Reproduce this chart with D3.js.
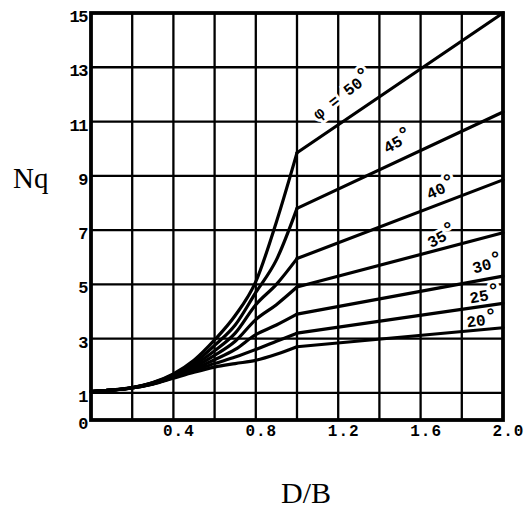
<!DOCTYPE html>
<html>
<head>
<meta charset="utf-8">
<script src="https://cdn.jsdelivr.net/npm/d3@7"></script>
<style>
  body { margin: 0; background: #fff; }
  svg { display: block; }
</style>
</head>
<body>
<svg id="chart" width="531" height="511"></svg>
<script>
// Bearing capacity factor Nq against embedment ratio D/B
const dB = [0, 0.1, 0.2, 0.3, 0.4, 0.5, 0.6, 0.7, 0.8, 0.9, 1.0, 2.0];
const frictionAngles = [50, 45, 40, 35, 30, 25, 20];
const nq50 = [1.05, 1.1, 1.2, 1.38, 1.7, 2.2, 2.95, 3.85, 5.1, 7.3, 9.85, 15.0];
const nq45 = [1.05, 1.1, 1.19, 1.37, 1.67, 2.1, 2.75, 3.5, 4.7, 5.9, 7.8, 11.35];
const nq40 = [1.05, 1.1, 1.19, 1.36, 1.64, 2.02, 2.55, 3.2, 4.25, 5.0, 5.95, 8.85];
const nq35 = [1.05, 1.1, 1.19, 1.35, 1.61, 1.95, 2.38, 2.9, 3.7, 4.25, 4.9, 6.9];
const nq30 = [1.05, 1.1, 1.18, 1.34, 1.58, 1.88, 2.22, 2.6, 3.15, 3.5, 3.9, 5.3];
const nq25 = [1.05, 1.1, 1.18, 1.33, 1.56, 1.82, 2.08, 2.32, 2.6, 2.9, 3.2, 4.3];
const nq20 = [1.05, 1.1, 1.18, 1.32, 1.54, 1.76, 1.95, 2.08, 2.2, 2.42, 2.7, 3.4];
const nqSeries = [nq50, nq45, nq40, nq35, nq30, nq25, nq20];

const xTickLabels = [0.4, 0.8, 1.2, 1.6, 2.0];
const yTickLabels = [0, 1, 3, 5, 7, 9, 11, 13, 15];
const xGrid = [0.2, 0.4, 0.6, 0.8, 1.0, 1.2, 1.4, 1.6, 1.8];
const yGrid = [1, 3, 5, 7, 9, 11, 13];

// curve labels: where each angle is written, in data units, and its tilt
const labelText = ["φ = 50°", "45°", "40°", "35°", "30°", "25°", "20°"];
const labelAt = [[1.22, 12.0], [1.49, 10.28], [1.70, 8.55], [1.705, 6.78], [1.925, 5.75], [1.912, 4.6], [1.898, 3.69]];
const labelTilt = [-38, -30, -25, -28, -15, -10, -8];

const margin = { left: 91, top: 13, right: 28, bottom: 91 };
const W = 531, H = 511;
const iw = W - margin.left - margin.right;
const ih = H - margin.top - margin.bottom;

const x = d3.scaleLinear().domain([0, 2.0]).range([0, iw]);
const y = d3.scaleLinear().domain([0, 15]).range([ih, 0]);

const svg = d3.select("#chart");
const g = svg.append("g").attr("transform", `translate(${margin.left},${margin.top})`);

const mono = "'Liberation Mono', 'Courier New', monospace";
const serif = "'Liberation Serif', 'Times New Roman', serif";

// grid
const grid = g.append("g").attr("stroke", "#000").attr("stroke-width", 2.3);
grid.selectAll("line.v").data(xGrid).join("line").attr("class", "v")
  .attr("x1", d => x(d)).attr("x2", d => x(d)).attr("y1", 0).attr("y2", ih);
grid.selectAll("line.h").data(yGrid).join("line").attr("class", "h")
  .attr("x1", 0).attr("x2", iw).attr("y1", d => y(d)).attr("y2", d => y(d));

// angle labels, with a white halo that breaks the grid behind them
const labels = g.append("g")
  .attr("font-family", mono).attr("font-weight", "bold").attr("font-size", 16)
  .attr("text-anchor", "middle");
labelText.forEach((t, i) => {
  const [lx, ly] = labelAt[i];
  const deg = t.endsWith("°");
  const txt = labels.append("text")
    .attr("transform", `translate(${x(lx)},${y(ly)}) rotate(${labelTilt[i]})`)
    .attr("dy", "0.35em")
    .attr("stroke", "#fff").attr("stroke-width", 6).attr("paint-order", "stroke")
    .attr("fill", "#000");
  txt.append("tspan").text(deg ? t.slice(0, -1) : t);
  if (deg) txt.append("tspan").attr("font-size", 20).attr("dy", "-0.1em").text("°");
});

// curves: smooth rise up to D/B = 1.0, straight beyond it
const curved = d3.line().x(d => x(d[0])).y(d => y(d[1])).curve(d3.curveMonotoneX);
const straight = d3.line().x(d => x(d[0])).y(d => y(d[1]));
const curves = g.append("g").attr("fill", "none").attr("stroke", "#000")
  .attr("stroke-width", 3.2).attr("stroke-linejoin", "round").attr("stroke-linecap", "round");
nqSeries.forEach((vals, i) => {
  const pts = dB.map((d, j) => [d, vals[j]]);
  curves.append("path").attr("class", "nq-" + frictionAngles[i]).attr("d", curved(pts.slice(0, 11)));
  curves.append("path").attr("class", "nq-" + frictionAngles[i]).attr("d", straight(pts.slice(10)));
});

// frame
g.append("rect").attr("x", 0).attr("y", 0).attr("width", iw).attr("height", ih)
  .attr("fill", "none").attr("stroke", "#000").attr("stroke-width", 3.8);

// axes (labels only; the frame and grid carry the lines)
const xAxis = g.append("g").attr("transform", `translate(0,${ih})`)
  .call(d3.axisBottom(x).tickValues(xTickLabels).tickFormat(d3.format(".1f")).tickSize(0).tickPadding(5));
xAxis.select(".domain").remove();
xAxis.selectAll("text").attr("font-family", mono).attr("font-weight", "bold")
  .attr("font-size", 16).attr("dx", 5).attr("fill", "#000").attr("letter-spacing", 1);

const yAxis = g.append("g")
  .call(d3.axisLeft(y).tickValues(yTickLabels).tickFormat(d3.format("d")).tickSize(0).tickPadding(4));
yAxis.select(".domain").remove();
yAxis.selectAll("text").attr("font-family", mono).attr("font-weight", "bold")
  .attr("font-size", 17).attr("dy", "0.5em").attr("fill", "#000")
  .attr("letter-spacing", -1.5);

// axis titles
svg.append("text").attr("x", 13).attr("y", 188)
  .attr("font-family", serif).attr("font-size", 29).attr("fill", "#000").text("Nq");
svg.append("text").attr("x", 306).attr("y", 503).attr("text-anchor", "middle")
  .attr("font-family", serif).attr("font-size", 30).attr("fill", "#000").text("D/B");
</script>
</body>
</html>
